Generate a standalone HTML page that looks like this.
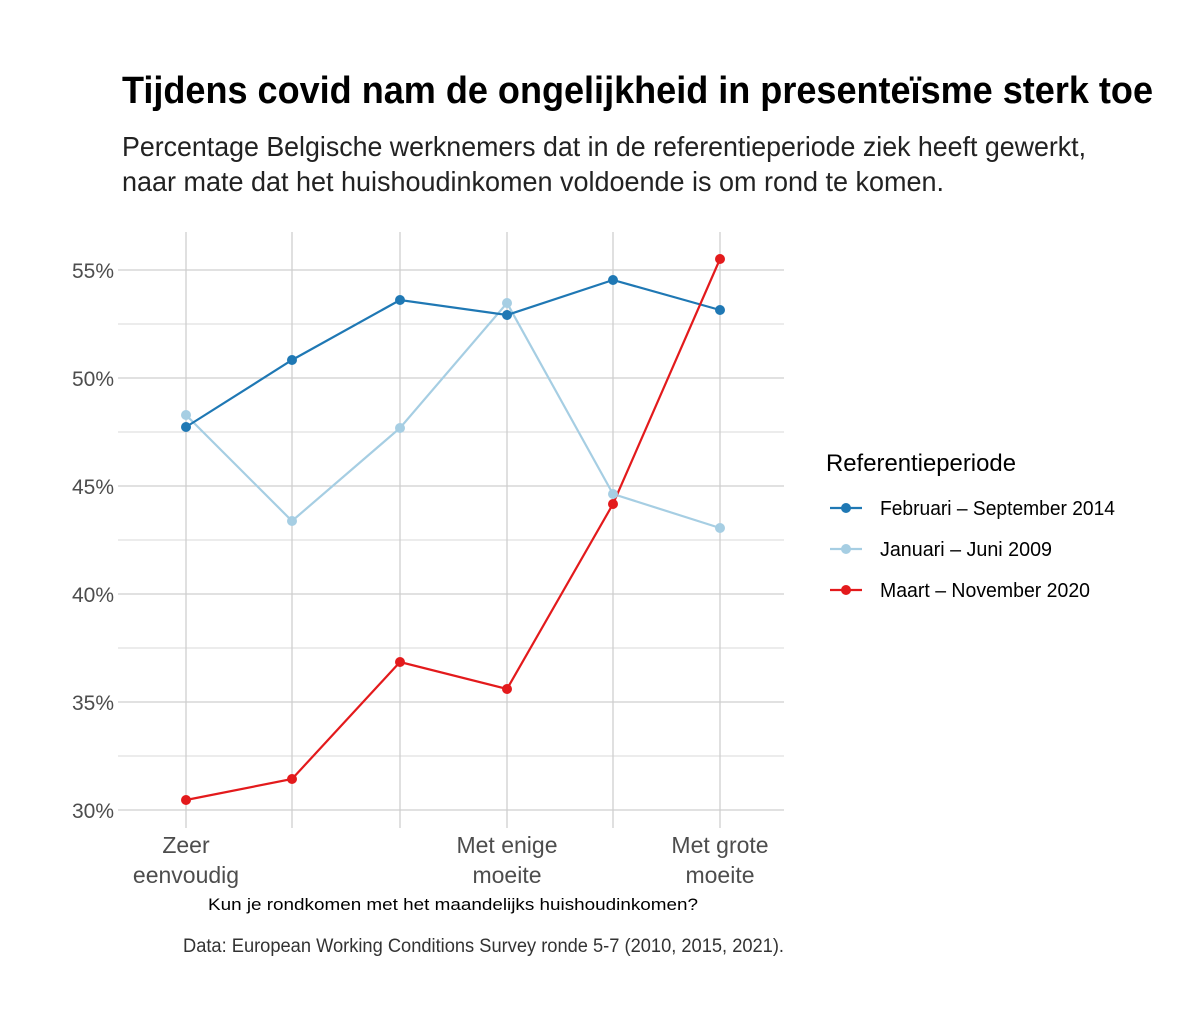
<!DOCTYPE html>
<html><head><meta charset="utf-8"><style>
html,body{margin:0;padding:0;background:#fff;}
svg{display:block;font-family:"Liberation Sans Narrow","Liberation Sans",sans-serif;}
</style></head><body>
<svg width="1200" height="1029" viewBox="0 0 1200 1029" xmlns="http://www.w3.org/2000/svg">
<rect width="1200" height="1029" fill="#fff"/>
<text x="122" y="103" font-size="38" font-weight="bold" fill="#000" textLength="1031" lengthAdjust="spacingAndGlyphs">Tijdens covid nam de ongelijkheid in presenteïsme sterk toe</text>
<text x="122" y="156" font-size="28" fill="#222" textLength="964" lengthAdjust="spacingAndGlyphs">Percentage Belgische werknemers dat in de referentieperiode ziek heeft gewerkt,</text>
<text x="122" y="191" font-size="28" fill="#222" textLength="822" lengthAdjust="spacingAndGlyphs">naar mate dat het huishoudinkomen voldoende is om rond te komen.</text>
<g stroke="#d9d9d9" stroke-width="1">
<line x1="118" x2="784" y1="324" y2="324"/><line x1="118" x2="784" y1="432" y2="432"/><line x1="118" x2="784" y1="540" y2="540"/><line x1="118" x2="784" y1="648" y2="648"/><line x1="118" x2="784" y1="756" y2="756"/>
</g>
<g stroke="#cfcfcf" stroke-width="1.3">
<line x1="118" x2="784" y1="270" y2="270"/><line x1="118" x2="784" y1="378" y2="378"/><line x1="118" x2="784" y1="486" y2="486"/><line x1="118" x2="784" y1="594" y2="594"/><line x1="118" x2="784" y1="702" y2="702"/><line x1="118" x2="784" y1="810" y2="810"/>
<line x1="186" x2="186" y1="232" y2="828"/><line x1="292" x2="292" y1="232" y2="828"/><line x1="400" x2="400" y1="232" y2="828"/><line x1="507" x2="507" y1="232" y2="828"/><line x1="613" x2="613" y1="232" y2="828"/><line x1="720" x2="720" y1="232" y2="828"/>
</g>
<g font-size="21" fill="#4d4d4d" text-anchor="end">
<text x="114" y="278">55%</text><text x="114" y="386">50%</text><text x="114" y="494">45%</text><text x="114" y="602">40%</text><text x="114" y="710">35%</text><text x="114" y="818">30%</text>
</g>
<g font-size="23" fill="#4d4d4d" text-anchor="middle">
<text x="186" y="853">Zeer</text><text x="186" y="883">eenvoudig</text>
<text x="507" y="853">Met enige</text><text x="507" y="883">moeite</text>
<text x="720" y="853">Met grote</text><text x="720" y="883">moeite</text>
</g>
<text x="208" y="910" font-size="17" fill="#000" textLength="490" lengthAdjust="spacingAndGlyphs">Kun je rondkomen met het maandelijks huishoudinkomen?</text>
<text x="183" y="952" font-size="19" fill="#333" textLength="601" lengthAdjust="spacingAndGlyphs">Data: European Working Conditions Survey ronde 5-7 (2010, 2015, 2021).</text>
<g fill="none" stroke-width="2.2">
<polyline stroke="#a6cee3" points="186,415 292,521 400,428 507,303 613,494 720,528"/>
<polyline stroke="#1f78b4" points="186,427 292,360 400,300 507,315 613,280 720,310"/>
<polyline stroke="#e31a1c" points="186,800 292,779 400,662 507,689 613,504 720,259"/>
</g>
<g fill="#a6cee3"><circle cx="186" cy="415" r="5"/><circle cx="292" cy="521" r="5"/><circle cx="400" cy="428" r="5"/><circle cx="507" cy="303" r="5"/><circle cx="613" cy="494" r="5"/><circle cx="720" cy="528" r="5"/></g>
<g fill="#1f78b4"><circle cx="186" cy="427" r="5"/><circle cx="292" cy="360" r="5"/><circle cx="400" cy="300" r="5"/><circle cx="507" cy="315" r="5"/><circle cx="613" cy="280" r="5"/><circle cx="720" cy="310" r="5"/></g>
<g fill="#e31a1c"><circle cx="186" cy="800" r="5"/><circle cx="292" cy="779" r="5"/><circle cx="400" cy="662" r="5"/><circle cx="507" cy="689" r="5"/><circle cx="613" cy="504" r="5"/><circle cx="720" cy="259" r="5"/></g>
<text x="826" y="471" font-size="24" fill="#000" textLength="190" lengthAdjust="spacingAndGlyphs">Referentieperiode</text>
<g stroke-width="2.2">
<line x1="830" x2="862" y1="508" y2="508" stroke="#1f78b4"/><circle cx="846" cy="508" r="5" fill="#1f78b4"/>
<line x1="830" x2="862" y1="549" y2="549" stroke="#a6cee3"/><circle cx="846" cy="549" r="5" fill="#a6cee3"/>
<line x1="830" x2="862" y1="590" y2="590" stroke="#e31a1c"/><circle cx="846" cy="590" r="5" fill="#e31a1c"/>
</g>
<g font-size="20" fill="#000">
<text x="880" y="515" textLength="235" lengthAdjust="spacingAndGlyphs">Februari – September 2014</text>
<text x="880" y="556" textLength="172" lengthAdjust="spacingAndGlyphs">Januari – Juni 2009</text>
<text x="880" y="597" textLength="210" lengthAdjust="spacingAndGlyphs">Maart – November 2020</text>
</g>
</svg>
</body></html>
